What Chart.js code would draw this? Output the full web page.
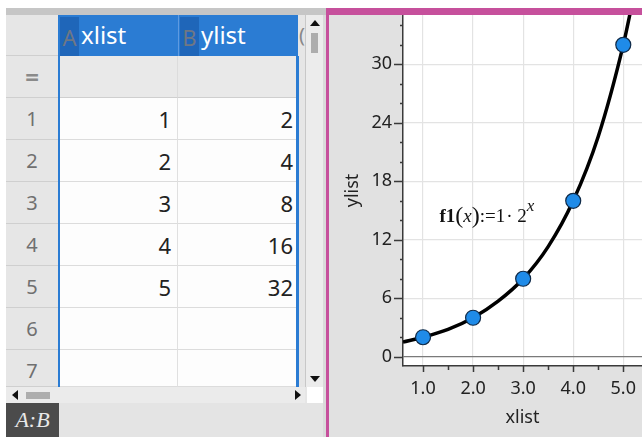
<!DOCTYPE html>
<html>
<head>
<meta charset="utf-8">
<script src="https://cdn.jsdelivr.net/npm/chart.js@4.4.1/dist/chart.umd.min.js"></script>
<style>
  html, body { margin: 0; padding: 0; background: #fff; }
  body { width: 642px; height: 437px; position: relative; overflow: hidden; font-family: "Noto Sans", sans-serif; }
  .abs { position: absolute; box-sizing: border-box; }
  .cell { position: absolute; box-sizing: border-box; background: #fdfdfd; border-bottom: 1px solid #dcdcdc; border-right: 1px solid #e0e0e0; font-size: 22px; color: #222; text-align: right; padding-right: 6px; line-height: 42px; }
  .rowhead { position: absolute; box-sizing: border-box; background: #e6e6e6; border-bottom: 1px solid #cfcfcf; font-size: 20px; color: #707070; text-align: center; line-height: 42px; }
  .tri { position: absolute; width: 0; height: 0; }
</style>
</head>
<body>
<div id="sheet"></div>
<div class="abs" style="left:326px; top:8px; width:316px; height:7px; background:#c6509c;"></div>
<div class="abs" style="left:326px; top:8px; width:3px; height:429px; background:#c6509c;"></div>
<div class="abs" style="left:329px; top:15px; width:313px; height:422px; background:#e1e1e1;">
  <canvas id="chart" width="313" height="422"></canvas>
</div>
<script>
// spreadsheet lists
const colNames = ['xlist', 'ylist'];
const xValues = [1, 2, 3, 4, 5];
const yValues = [2, 4, 8, 16, 32];

// curve f1(x) = 1·2^x
const curveX = [0.6, 1, 1.5, 2, 2.5, 3, 3.5, 4, 4.5, 5, 5.2];
const curveY = [1.5, 2, 2.8, 4, 5.7, 8, 11.3, 16, 22.6, 32, 36.8];

// axis ticks
const xTickValues = [1, 1.5, 2, 2.5, 3, 3.5, 4, 4.5, 5];
const xMajorTicks = [1, 2, 3, 4, 5];
const xTickLabels = ['1.0', '2.0', '3.0', '4.0', '5.0'];
const yTickValues = [0, 2, 4, 6, 8, 10, 12, 14, 16, 18, 20, 22, 24, 26, 28, 30, 32, 34];
const yMajorTicks = [0, 6, 12, 18, 24, 30];
const yTickLabels = ['0', '6', '12', '18', '24', '30'];

// ---------- left panel: the list table ----------
const sheet = document.getElementById('sheet');
const add = (html) => sheet.insertAdjacentHTML('beforeend', html);

add('<div class="abs" style="left:6px;top:8px;width:320px;height:7px;background:#c6c6c6;"></div>');
add('<div class="abs" style="left:6px;top:15px;width:320px;height:422px;background:#e6e6e6;"></div>');

// header row
add('<div class="abs" style="left:6px;top:15px;width:52px;height:41px;background:#e6e6e6;border-bottom:1px solid #cfcfcf;"></div>');
add('<div class="abs" style="left:58px;top:15px;width:240px;height:41px;background:#2b7cd3;"></div>');
['A', 'B'].forEach((letter, i) => {
  const left = 58 + i * 120;
  add(`<div class="abs" style="left:${left + 2}px;top:17px;width:19px;height:39px;background:#1f66b9;color:#6f7784;font-size:22px;line-height:40px;text-align:center;">${letter}</div>`);
  add(`<div class="abs" style="left:${left + 23}px;top:15px;height:41px;color:#fff;font-size:24px;line-height:40px;">${colNames[i]}</div>`);
  if (i > 0) add(`<div class="abs" style="left:${left}px;top:15px;width:1px;height:41px;background:#5e9ae0;"></div>`);
});
add('<div class="abs" style="left:299px;top:15px;width:6px;height:41px;color:#888;font-size:20px;line-height:40px;overflow:hidden;">(</div>');

// "=" formula row
add('<div class="rowhead" style="left:6px;top:56px;width:52px;height:42px;font-weight:bold;color:#8a8a8a;font-size:24px;">=</div>');
add('<div class="abs" style="left:58px;top:56px;width:120px;height:42px;background:#e9e9e9;border-bottom:1px solid #cfcfcf;border-right:1px solid #dcdcdc;"></div>');
add('<div class="abs" style="left:178px;top:56px;width:120px;height:42px;background:#e9e9e9;border-bottom:1px solid #cfcfcf;"></div>');

// data rows
for (let r = 0; r < 7; r++) {
  const top = 98 + r * 42;
  const h = r === 6 ? 387 - top : 42;
  add(`<div class="rowhead" style="left:6px;top:${top}px;width:52px;height:${h}px;">${r + 1}</div>`);
  const xv = xValues[r] !== undefined ? xValues[r] : '';
  const yv = yValues[r] !== undefined ? yValues[r] : '';
  add(`<div class="cell" style="left:58px;top:${top}px;width:120px;height:${h}px;">${xv}</div>`);
  add(`<div class="cell" style="left:178px;top:${top}px;width:120px;height:${h}px;padding-right:4px;">${yv}</div>`);
}
// selected column edges
add('<div class="abs" style="left:58px;top:56px;width:2px;height:331px;background:#2b7cd3;"></div>');
add('<div class="abs" style="left:296px;top:56px;width:3px;height:331px;background:#2b7cd3;"></div>');
add('<div class="abs" style="left:299px;top:56px;width:6px;height:331px;background:#e6e6e6;"></div>');

// vertical scrollbar
add('<div class="abs" style="left:305px;top:15px;width:18px;height:372px;background:#ececec;border-left:1px solid #c8c8c8;"></div>');
add('<div class="abs" style="left:323px;top:15px;width:3px;height:422px;background:#dadada;"></div>');
add('<div class="tri" style="left:310px;top:20px;border-left:5px solid transparent;border-right:5px solid transparent;border-bottom:6px solid #111;"></div>');
add('<div class="abs" style="left:311px;top:33px;width:7px;height:20px;background:#adadad;"></div>');
add('<div class="tri" style="left:310px;top:376px;border-left:5px solid transparent;border-right:5px solid transparent;border-top:6px solid #111;"></div>');

// horizontal scrollbar
add('<div class="abs" style="left:6px;top:387px;width:299px;height:16px;background:#ebebeb;"></div>');
add('<div class="tri" style="left:12px;top:390px;border-top:5px solid transparent;border-bottom:5px solid transparent;border-right:6px solid #111;"></div>');
add('<div class="abs" style="left:26px;top:392px;width:24px;height:7px;background:#adadad;"></div>');
add('<div class="tri" style="left:295px;top:390px;border-top:5px solid transparent;border-bottom:5px solid transparent;border-left:6px solid #111;"></div>');
add('<div class="abs" style="left:307px;top:387px;width:16px;height:16px;background:#fff;"></div>');

// bottom bar
add('<div class="abs" style="left:6px;top:403px;width:317px;height:34px;background:#e4e4e4;"></div>');
add('<div class="abs" style="left:6px;top:403px;width:53px;height:34px;background:#4b4b4b;color:#e8e8e8;font-family:\'Liberation Serif\',serif;font-style:italic;font-size:22px;line-height:34px;text-align:center;">A:B</div>');

// ---------- right panel: the graph ----------
const plotBackground = {
  id: 'plotBackground',
  beforeDraw(chart) {
    const { ctx, chartArea: a } = chart;
    ctx.save();
    ctx.fillStyle = '#ffffff';
    ctx.fillRect(a.left, a.top, a.right - a.left, a.bottom - a.top);
    ctx.restore();
  }
};

// short outside tick marks, longer at labelled values
const tickMarks = {
  id: 'tickMarks',
  afterDraw(chart) {
    const { ctx } = chart;
    const xs = chart.scales.x, ys = chart.scales.y;
    ctx.save();
    ctx.strokeStyle = '#3a3a3a';
    ctx.lineWidth = 1.5;
    ctx.beginPath();
    xTickValues.forEach(v => {
      const px = Math.round(xs.getPixelForValue(v)) + 0.5;
      const len = xMajorTicks.includes(v) ? 6 : 4;
      ctx.moveTo(px, xs.top);
      ctx.lineTo(px, xs.top + len);
    });
    yTickValues.forEach(v => {
      const py = Math.round(ys.getPixelForValue(v)) + 0.5;
      const len = yMajorTicks.includes(v) ? 9 : 3;
      ctx.moveTo(ys.right, py);
      ctx.lineTo(ys.right - len, py);
    });
    ctx.stroke();
    ctx.restore();
  }
};

// f1(x):=1·2^x label
const formulaLabel = {
  id: 'formulaLabel',
  afterDraw(chart) {
    const { ctx } = chart;
    let x = chart.scales.x.getPixelForValue(1.33);
    const y = chart.scales.y.getPixelForValue(13.8);
    const parts = [
      { t: 'f1', f: 'bold 19px "Liberation Serif"', dy: 0, gap: 0 },
      { t: '(', f: '24px "Liberation Serif"', dy: 1, gap: 0 },
      { t: 'x', f: 'italic 19px "Liberation Serif"', dy: 0, gap: 0 },
      { t: ')', f: '24px "Liberation Serif"', dy: 1, gap: 0 },
      { t: ':=1', f: '19px "Liberation Serif"', dy: 0, gap: 1 },
      { t: '\u00b7 2', f: '19px "Liberation Serif"', dy: 0, gap: 0 },
      { t: 'x', f: 'italic 17px "Liberation Serif"', dy: -11, gap: 0 }
    ];
    ctx.save();
    ctx.fillStyle = '#111';
    ctx.textBaseline = 'alphabetic';
    parts.forEach(p => {
      ctx.font = p.f;
      ctx.fillText(p.t, x, y + p.dy);
      x += ctx.measureText(p.t).width + p.gap;
    });
    ctx.restore();
  }
};

const tickFont = { family: 'Noto Sans', size: 18 };
const noPadding = s => { s.paddingTop = 0; s.paddingBottom = 0; s.paddingLeft = 0; s.paddingRight = 0; };

new Chart(document.getElementById('chart'), {
  type: 'scatter',
  data: {
    datasets: [
      {
        label: 'data',
        data: xValues.map((v, i) => ({ x: v, y: yValues[i] })),
        pointRadius: 7.5,
        pointBackgroundColor: '#1f8be8',
        pointBorderColor: '#0f2a48',
        pointBorderWidth: 1.2,
        order: 0
      },
      {
        label: 'f1',
        data: curveX.map((v, i) => ({ x: v, y: curveY[i] })),
        showLine: true,
        cubicInterpolationMode: 'monotone',
        borderColor: '#000',
        borderWidth: 3.5,
        pointRadius: 0,
        order: 1
      }
    ]
  },
  options: {
    responsive: false,
    animation: false,
    devicePixelRatio: 1,
    layout: { padding: 0, autoPadding: false },
    plugins: { legend: { display: false }, tooltip: { enabled: false } },
    scales: {
      x: {
        type: 'linear',
        min: 0.6,
        max: 5.374,
        afterBuildTicks: s => { s.ticks = xTickValues.map(v => ({ value: v })); },
        afterFit: s => { s.height = 71; noPadding(s); },
        ticks: {
          autoSkip: false,
          maxRotation: 0,
          padding: 12,
          color: '#222',
          font: tickFont,
          callback: v => { const i = xMajorTicks.indexOf(v); return i >= 0 ? xTickLabels[i] : ''; }
        },
        grid: {
          drawTicks: false,
          color: c => xMajorTicks.includes(c.tick && c.tick.value) ? '#e3e3e3' : 'rgba(0,0,0,0)',
          lineWidth: 1.2
        },
        border: { display: true, color: '#3a3a3a', width: 1.5 },
        title: { display: true, text: 'xlist', color: '#222', font: tickFont, padding: { bottom: 8, top: 0 } }
      },
      y: {
        type: 'linear',
        min: -0.95,
        max: 35.06,
        afterBuildTicks: s => { s.ticks = yTickValues.map(v => ({ value: v })); },
        afterFit: s => { s.width = 74; noPadding(s); },
        ticks: {
          autoSkip: false,
          padding: 11,
          color: '#222',
          font: tickFont,
          callback: v => { const i = yMajorTicks.indexOf(v); return i >= 0 ? yTickLabels[i] : ''; }
        },
        grid: {
          drawTicks: false,
          color: c => {
            const v = c.tick && c.tick.value;
            if (v === 0) return '#7a7a7a';
            return yMajorTicks.includes(v) ? '#e3e3e3' : 'rgba(0,0,0,0)';
          },
          lineWidth: 1.2
        },
        border: { display: true, color: '#3a3a3a', width: 1.5 },
        title: { display: true, text: 'ylist', color: '#222', font: tickFont, padding: { top: 13, bottom: 0 } }
      }
    }
  },
  plugins: [plotBackground, tickMarks, formulaLabel]
});
</script>
</body>
</html>
